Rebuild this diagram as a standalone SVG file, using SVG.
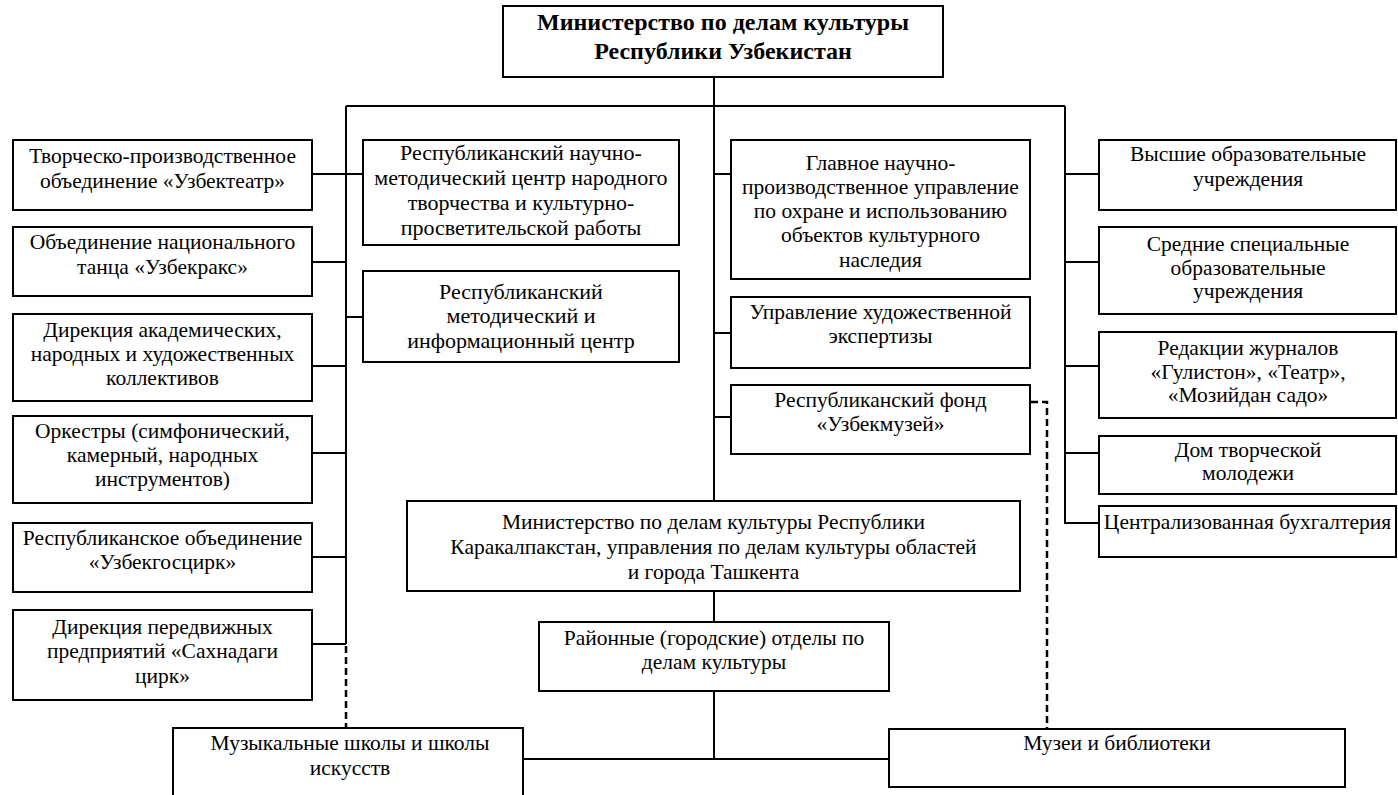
<svg xmlns="http://www.w3.org/2000/svg" width="1398" height="795" viewBox="0 0 1398 795">
<style>
.box{fill:#fff;stroke:#000;stroke-width:2}
.ln{fill:none;stroke:#000;stroke-width:2}
.dash{fill:none;stroke:#000;stroke-width:2.5;stroke-dasharray:7 4}
text{font-family:"Liberation Serif","Times New Roman",serif;font-size:21.5px;fill:#000;text-anchor:middle}
.b{font-weight:bold;font-size:24px}
.w{font-size:22px}
</style>
<rect width="1398" height="795" fill="#fff"/>
<g id="connectors">
<path class="ln" d="M714 77V500M714 591V622M714 691V759M523 759H889"/>
<path class="ln" d="M346 106H1065M346 106V644M1065 106V523H1099"/>
<path class="ln" d="M312 174H346M312 262H346M312 366H346M312 453H346M312 557H346M312 644H346"/>
<path class="ln" d="M346 174H363M346 317H363"/>
<path class="ln" d="M714 174H731M714 333H731M714 417H731"/>
<path class="ln" d="M1065 174H1099M1065 262H1099M1065 366H1099M1065 453H1099"/>
<path class="dash" d="M346 646V728"/>
<path class="dash" d="M1031 402H1047V729"/>
</g>
<g id="n-top"><rect class="box" x="503" y="6" width="440" height="71"/>
<text class="b" x="723" y="30">Министерство по делам культуры</text>
<text class="b" x="723" y="59">Республики Узбекистан</text></g>
<g id="n-l1"><rect class="box" x="13" y="140" width="299" height="70"/>
<text x="162.5" y="163">Творческо-производственное</text>
<text x="162.5" y="188">объединение «Узбектеатр»</text></g>
<g id="n-l2"><rect class="box" x="13" y="227" width="299" height="69"/>
<text x="162.5" y="249">Объединение национального</text>
<text x="162.5" y="274">танца «Узбекракс»</text></g>
<g id="n-l3"><rect class="box" x="13" y="314" width="299" height="87"/>
<text x="162.5" y="337">Дирекция академических,</text>
<text x="162.5" y="361">народных и художественных</text>
<text x="162.5" y="385">коллективов</text></g>
<g id="n-l4"><rect class="box" x="13" y="416" width="299" height="87"/>
<text x="162.5" y="438">Оркестры (симфонический,</text>
<text x="162.5" y="462">камерный, народных</text>
<text x="162.5" y="486">инструментов)</text></g>
<g id="n-l5"><rect class="box" x="13" y="523" width="299" height="69"/>
<text x="162.5" y="545">Республиканское объединение</text>
<text x="162.5" y="569">«Узбекгосцирк»</text></g>
<g id="n-l6"><rect class="box" x="13" y="610" width="299" height="90"/>
<text x="162.5" y="634">Дирекция передвижных</text>
<text x="162.5" y="658">предприятий «Сахнадаги</text>
<text x="162.5" y="683">цирк»</text></g>
<g id="n-c1"><rect class="box" x="363" y="140" width="316" height="105"/>
<text class="w" x="521" y="160">Республиканский научно-</text>
<text class="w" x="521" y="185">методический центр народного</text>
<text class="w" x="521" y="210">творчества и культурно-</text>
<text class="w" x="521" y="235">просветительской работы</text></g>
<g id="n-c2"><rect class="box" x="363" y="271" width="316" height="91"/>
<text class="w" x="521" y="299">Республиканский</text>
<text class="w" x="521" y="323">методический и</text>
<text class="w" x="521" y="348">информационный центр</text></g>
<g id="n-m1"><rect class="box" x="731" y="140" width="299" height="139"/>
<text x="880.5" y="170">Главное научно-</text>
<text x="880.5" y="194">производственное управление</text>
<text x="880.5" y="218">по охране и использованию</text>
<text x="880.5" y="242">объектов культурного</text>
<text x="880.5" y="267">наследия</text></g>
<g id="n-m2"><rect class="box" x="731" y="297" width="299" height="71"/>
<text x="880.5" y="319">Управление художественной</text>
<text x="880.5" y="343">экспертизы</text></g>
<g id="n-m3"><rect class="box" x="731" y="385" width="299" height="69"/>
<text x="880.5" y="407">Республиканский фонд</text>
<text x="880.5" y="431">«Узбекмузей»</text></g>
<g id="n-rk"><rect class="box" x="407" y="501" width="613" height="90"/>
<text x="713.5" y="529">Министерство по делам культуры Республики</text>
<text x="713.5" y="554">Каракалпакстан, управления по делам культуры областей</text>
<text x="713.5" y="579">и города Ташкента</text></g>
<g id="n-dist"><rect class="box" x="539" y="622" width="350" height="69"/>
<text x="714" y="645">Районные (городские) отделы по</text>
<text x="714" y="669">делам культуры</text></g>
<g id="n-music"><rect class="box" x="173" y="728" width="350" height="80"/>
<text x="350" y="750">Музыкальные школы и школы</text>
<text x="350" y="775">искусств</text></g>
<g id="n-museum"><rect class="box" x="889" y="729" width="456" height="58"/>
<text x="1117" y="750">Музеи и библиотеки</text></g>
<g id="n-r1"><rect class="box" x="1099" y="140" width="297" height="70"/>
<text x="1248" y="161">Высшие образовательные</text>
<text x="1248" y="186">учреждения</text></g>
<g id="n-r2"><rect class="box" x="1099" y="227" width="297" height="87"/>
<text x="1248" y="251">Средние специальные</text>
<text x="1248" y="275">образовательные</text>
<text x="1248" y="298">учреждения</text></g>
<g id="n-r3"><rect class="box" x="1099" y="332" width="297" height="86"/>
<text x="1248" y="355">Редакции журналов</text>
<text x="1248" y="379">«Гулистон», «Театр»,</text>
<text x="1248" y="402">«Мозийдан садо»</text></g>
<g id="n-r4"><rect class="box" x="1099" y="436" width="297" height="58"/>
<text x="1248" y="457">Дом творческой</text>
<text x="1248" y="480">молодежи</text></g>
<g id="n-r5"><rect class="box" x="1099" y="506" width="297" height="51"/>
<text x="1247.5" y="529">Централизованная бухгалтерия</text></g>
</svg>
